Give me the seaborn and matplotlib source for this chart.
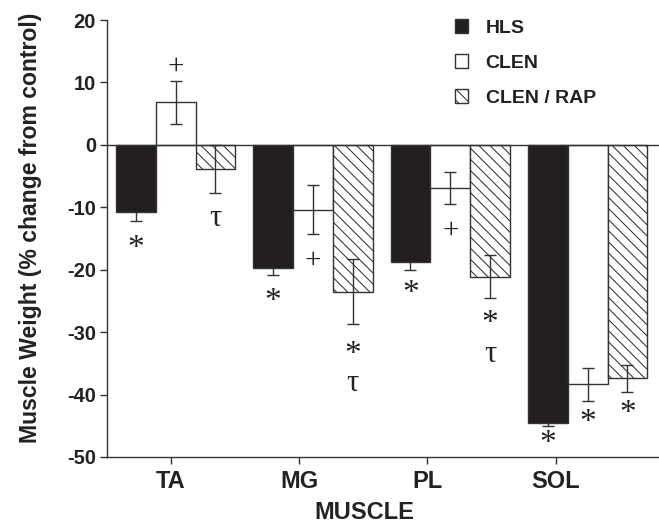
import numpy as np
import pandas as pd
import matplotlib
matplotlib.use("Agg")
import matplotlib.pyplot as plt
from matplotlib.transforms import offset_copy
import seaborn as sns

# ---------------- data ----------------
muscles = ["TA", "MG", "PL", "SOL"]
groups = ["HLS", "CLEN", "CLEN / RAP"]

hls = [-10.8, -19.8, -18.8, -44.6]
clen = [6.8, -10.4, -6.9, -38.35]
clen_rap = [-3.85, -23.5, -21.1, -37.4]

hls_err = [1.4, 1.0, 1.2, 0.4]
clen_err = [3.4, 3.9, 2.6, 2.6]
clen_rap_err = [3.8, 5.15, 3.5, 2.2]

# significance symbols: muscle, group, symbol, y value
ann_muscle = ["TA", "TA", "TA", "MG", "MG", "MG", "MG", "PL", "PL", "PL", "PL", "SOL", "SOL", "SOL"]
ann_group = ["HLS", "CLEN", "CLEN / RAP", "HLS", "CLEN", "CLEN / RAP", "CLEN / RAP",
             "HLS", "CLEN", "CLEN / RAP", "CLEN / RAP", "HLS", "CLEN", "CLEN / RAP"]
ann_symbol = ["*", "+", "τ", "*", "+", "*", "τ", "*", "+", "*", "τ", "*", "*", "*"]
ann_y = [-15.5, 12.7, -12.0, -24.0, -18.4, -32.5, -38.5, -22.7, -13.6, -27.5, -33.9, -46.7, -43.3, -41.9]

# ---------------- style ----------------
sns.set_style("ticks")
plt.rcParams["font.family"] = ["Liberation Sans", "DejaVu Sans"]
plt.rcParams["font.weight"] = "bold"
plt.rcParams["axes.unicode_minus"] = False
plt.rcParams["hatch.linewidth"] = 0.75
plt.rcParams["hatch.color"] = "#4a4a4a"
dark = "#333333"
txt = "#222222"

df = pd.DataFrame({
    "muscle": muscles * 3,
    "group": [g for g in groups for _ in muscles],
    "value": hls + clen + clen_rap,
})
values = {"HLS": hls, "CLEN": clen, "CLEN / RAP": clen_rap}
errors = {"HLS": hls_err, "CLEN": clen_err, "CLEN / RAP": clen_rap_err}
palette = {"HLS": "#231f20", "CLEN": "white", "CLEN / RAP": "white"}

fig = plt.figure(figsize=(6.59, 5.27), dpi=100)
ax = fig.add_axes([107 / 659, 70 / 527, 552 / 659, 437 / 527])

sns.barplot(data=df, x="muscle", y="value", hue="group", order=muscles,
            hue_order=groups, palette=palette, saturation=1, width=0.87,
            edgecolor=dark, linewidth=1.0, errorbar=None, legend=False, ax=ax)

centers = {}
for g, cont in zip(groups, ax.containers):
    xs = []
    for bar in cont:
        bar.set_zorder(2)
        if g == "CLEN / RAP":
            bar.set_hatch("\\\\\\")
        xs.append(bar.get_x() + bar.get_width() / 2)
    centers[g] = xs
    z = 1 if g == "HLS" else 4
    ax.errorbar(xs, values[g], yerr=errors[g], fmt="none", ecolor=dark,
                elinewidth=1.0, capsize=4, capthick=1.0, zorder=z)

ax.axhline(0, color=dark, lw=1.0, zorder=5)

sym_size = {"*": 24, "+": 21, "τ": 22}
sym_shift = {"*": -0.22, "+": -0.05, "τ": 0.05}
for m, g, s, y in zip(ann_muscle, ann_group, ann_symbol, ann_y):
    x = centers[g][muscles.index(m)]
    fs = sym_size[s]
    tr = offset_copy(ax.transData, fig=fig, x=0, y=sym_shift[s] * fs, units="points")
    ax.text(x, y, s, ha="center", va="center", fontsize=fs, transform=tr,
            family=["Liberation Serif", "DejaVu Serif"], fontweight="normal",
            color=txt, zorder=6)

# legend from the drawn bars
handles = [cont[0] for cont in ax.containers]
leg = ax.legend(handles, groups, loc="upper left", bbox_to_anchor=(0.612, 1.024),
                frameon=False, fontsize=14, handlelength=0.7, handleheight=0.7,
                handletextpad=0.9, labelspacing=0.9, borderpad=0)
for t in leg.get_texts():
    t.set_color(txt)

ax.set_ylim(-50, 20)
ax.set_yticks(range(-50, 21, 10))
ax.set_xlim(-0.5, 3.52)
tick_pos = np.arange(len(muscles)) * 0.935 - 0.036
ax.set_xticks(tick_pos, muscles)

ax.tick_params(axis="both", direction="out", length=5, width=1, color=dark)
ax.tick_params(axis="y", labelsize=14.5, pad=3)
ax.tick_params(axis="x", labelsize=17, pad=4)
for lab in ax.get_xticklabels() + ax.get_yticklabels():
    lab.set_fontweight("bold")
    lab.set_color(txt)

ax.set_ylabel("Muscle Weight (% change from control)", fontsize=16.6,
              fontweight="bold", color=txt)
ax.yaxis.set_label_coords(-0.118, 0.524)
ax.set_xlabel("MUSCLE", fontsize=17, fontweight="bold", color=txt)
ax.xaxis.set_label_coords(0.467, -0.101)

sns.despine(ax=ax)
for sp in ["left", "bottom"]:
    ax.spines[sp].set_color(dark)
    ax.spines[sp].set_linewidth(1.0)

fig.savefig("out.png", dpi=100)
